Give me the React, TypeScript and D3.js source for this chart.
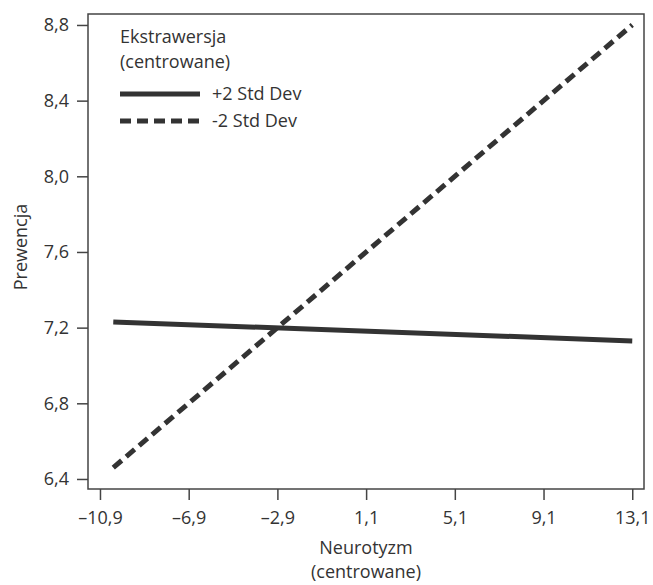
import React, { useEffect, useRef } from 'react';
import * as d3 from 'd3';

const xTicks = [-10.9, -6.9, -2.9, 1.1, 5.1, 9.1, 13.1];
const yTicks = [6.4, 6.8, 7.2, 7.6, 8.0, 8.4, 8.8];
const plusX = [-10.3, 13.1];
const plusY = [7.23, 7.13];
const minusX = [-10.3, 13.1];
const minusY = [6.46, 8.8];
const legendLabels = ['+2 Std Dev', '-2 Std Dev'];

const fmt = (v: number) => v.toFixed(1).replace('.', ',').replace('-', '\u2013');

const App = () => {
  const svgRef = useRef<SVGSVGElement>(null);

  useEffect(() => {
    const width = 653;
    const height = 585;
    const m = { left: 88, top: 14, right: 9, bottom: 96 };
    const svg = d3.select(svgRef.current);
    svg.selectAll('*').remove(); // clear previous content

    const x = d3.scaleLinear().domain([-11.44, 13.63]).range([m.left, width - m.right]);
    const y = d3.scaleLinear().domain([6.347, 8.858]).range([height - m.bottom, m.top]);
    const ink = '#333';
    const font = '"Open Sans", sans-serif';
    const fs = '18px';

    svg.append('rect')
      .attr('x', m.left).attr('y', m.top)
      .attr('width', width - m.left - m.right)
      .attr('height', height - m.top - m.bottom)
      .attr('fill', 'none').attr('stroke', '#444').attr('stroke-width', 1.5);

    const yAxis = svg.append('g').attr('transform', `translate(${m.left},0)`)
      .call(d3.axisLeft(y).tickValues(yTicks).tickSize(11).tickFormat((d) => fmt(+d)));
    const xAxis = svg.append('g').attr('transform', `translate(0,${height - m.bottom})`)
      .call(d3.axisBottom(x).tickValues(xTicks).tickSize(11).tickFormat((d) => fmt(+d)));
    [yAxis, xAxis].forEach((a) => {
      a.select('.domain').remove();
      a.selectAll('line').attr('stroke', '#444').attr('stroke-width', 1.5);
      a.selectAll('text').attr('fill', ink).style('font-family', font).style('font-size', fs);
    });
    yAxis.selectAll('text').attr('x', -19);
    xAxis.selectAll('text').attr('y', 22);

    const line = d3.line<[number, number]>().x((d) => x(d[0])).y((d) => y(d[1]));
    const plus = plusX.map((v, i) => [v, plusY[i]] as [number, number]);
    const minus = minusX.map((v, i) => [v, minusY[i]] as [number, number]);

    svg.append('path').attr('d', line(plus)).attr('fill', 'none')
      .attr('stroke', ink).attr('stroke-width', 5);
    svg.append('path').attr('d', line(minus)).attr('fill', 'none')
      .attr('stroke', ink).attr('stroke-width', 5).attr('stroke-dasharray', '11,6');

    // legend
    const lg = svg.append('g').style('font-family', font).style('font-size', fs).attr('fill', ink);
    lg.append('text').attr('x', 120).attr('y', 43).text('Ekstrawersja');
    lg.append('text').attr('x', 120).attr('y', 68).text('(centrowane)');
    legendLabels.forEach((lab, i) => {
      const ly = 94 + i * 27;
      lg.append('line').attr('x1', 120).attr('x2', 200).attr('y1', ly).attr('y2', ly)
        .attr('stroke', ink).attr('stroke-width', 5)
        .attr('stroke-dasharray', i === 1 ? '11,6' : null);
      lg.append('text').attr('x', 212).attr('y', ly + 6).text(lab);
    });

    // axis titles
    const cx = (m.left + width - m.right) / 2;
    svg.append('text').attr('x', cx).attr('y', 554).attr('text-anchor', 'middle')
      .style('font-family', font).style('font-size', fs).attr('fill', ink).text('Neurotyzm');
    svg.append('text').attr('x', cx).attr('y', 578).attr('text-anchor', 'middle')
      .style('font-family', font).style('font-size', fs).attr('fill', ink).text('(centrowane)');
    svg.append('text')
      .attr('transform', `translate(27,247) rotate(-90)`)
      .attr('text-anchor', 'middle')
      .style('font-family', font).style('font-size', fs).attr('fill', ink).text('Prewencja');
  }, []);

  return (
    <svg ref={svgRef} width={653} height={585}
      style={{ position: 'absolute', left: 0, top: 0, background: '#fff' }} />
  );
};

export default App;
